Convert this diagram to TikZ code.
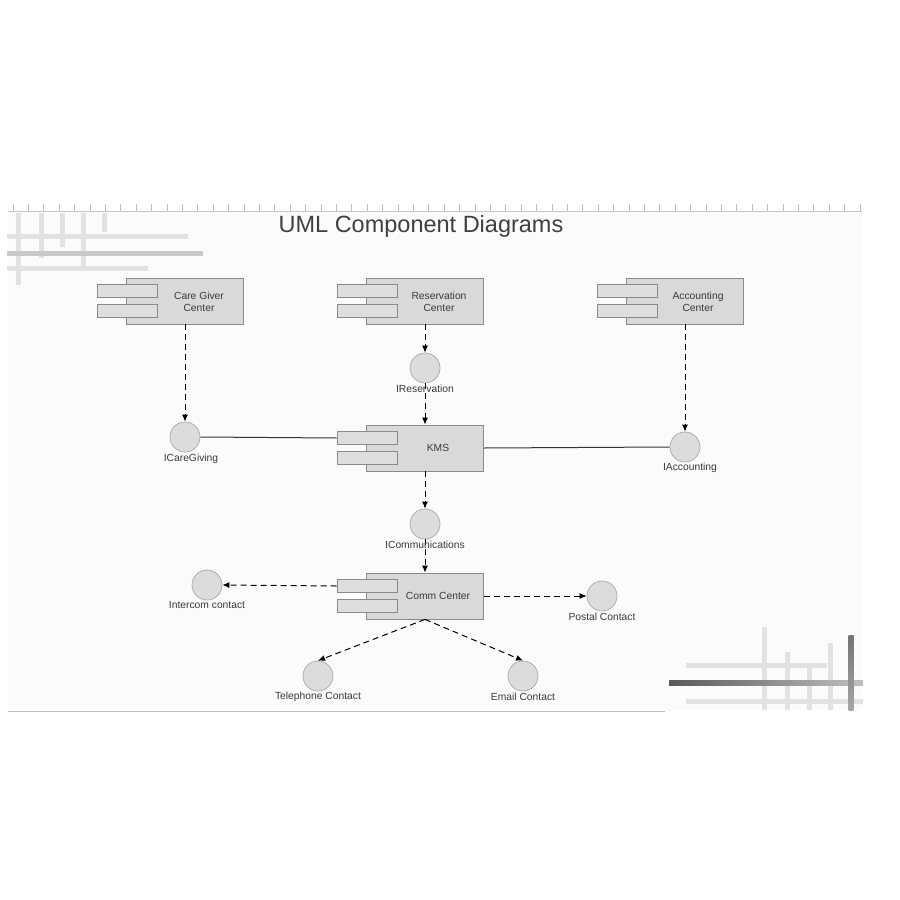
\documentclass[tikz,border=0pt]{standalone}
\usepackage{fontspec}
\setmainfont{Liberation Sans}
\usetikzlibrary{arrows.meta}
\definecolor{compfill}{HTML}{D9D9D9}
\definecolor{compdraw}{HTML}{8A8A8A}
\definecolor{portfill}{HTML}{DEDEDE}
\definecolor{iffill}{HTML}{DCDCDC}
\definecolor{ifdraw}{HTML}{A8A8A8}
\definecolor{txt}{HTML}{3A3A3A}
\definecolor{areabg}{HTML}{FBFBFB}
\definecolor{barlight}{HTML}{E2E2E2}
\definecolor{barmid}{HTML}{C9C9C9}
\begin{document}
\begin{tikzpicture}[x=1pt,y=-1pt,
  comp/.style={draw=compdraw, fill=compfill, minimum width=117pt, minimum height=46pt, inner sep=0pt, line width=0.8pt},
  port/.style={draw=compdraw, fill=portfill, minimum width=60pt, minimum height=13pt, inner sep=0pt, line width=0.7pt},
  iface/.style={circle, draw=ifdraw, fill=iffill, minimum size=30pt, inner sep=0pt, line width=0.7pt},
  lbl/.style={text=txt, font=\fontsize{10.3}{11.5}\selectfont, inner sep=0pt, align=center},
  dep/.style={draw=black, line width=1pt, dash pattern=on 6pt off 4pt, -{Latex[length=7pt,width=6pt]}},
  assoc/.style={draw=black!80, line width=1pt},
  vbar/.style={line width=5pt, draw=barlight},
  tick/.style={draw=black!25, line width=0.7pt}]
\useasboundingbox (0,0) rectangle (900,900);
\fill[white] (0,0) rectangle (900,900);
\fill[areabg] (8,211) rectangle (862,710);
% ruler
\draw[black!22, line width=0.8pt] (8,211) -- (862,211);
\foreach \i in {0,...,55} \draw[tick] ({13+15.4*\i},204) -- ++(0,7);
\draw[black!25, line width=0.8pt] (8,711) -- (665,711);
% top-left decoration
\draw[vbar] (18,213) -- (18,285);
\draw[vbar] (41,213) -- (41,258);
\draw[vbar] (62,213) -- (62,247);
\draw[vbar] (83,213) -- (83,267);
\draw[vbar] (104,213) -- (104,232);
\draw[vbar] (7,236) -- (188,236);
\draw[line width=5pt, draw=barmid] (7,253) -- (203,253);
\draw[vbar] (7,268) -- (148,268);
% bottom-right decoration
\draw[vbar] (686,665) -- (827,665);
\draw[vbar] (686,701) -- (863,701);
\draw[vbar] (764,627) -- (764,710);
\draw[vbar] (787,652) -- (787,710);
\draw[vbar] (809,663) -- (809,710);
\draw[vbar] (830,643) -- (830,710);
\shade[left color=black!65, right color=black!25] (669,680.5) rectangle (863,685.5);
\shade[top color=black!55, bottom color=black!35] (848.5,635) rectangle (853.5,710);
% title
\node[text=black!75, font=\fontsize{23.5}{27}\selectfont, inner sep=0pt] (title) at (421,226) {UML Component Diagrams};
% components
\node[comp] (cg) at (185,301) {};
\node[port] (cg-p1) at (127,291) {};
\node[port] (cg-p2) at (127,311) {};
\node[lbl] (cg-t) at (199,302) {Care Giver\\Center};

\node[comp] (rc) at (425,301) {};
\node[port] (rc-p1) at (367,291) {};
\node[port] (rc-p2) at (367,311) {};
\node[lbl] (rc-t) at (439,302) {Reservation\\Center};

\node[comp] (ac) at (685,301) {};
\node[port] (ac-p1) at (627,291) {};
\node[port] (ac-p2) at (627,311) {};
\node[lbl] (ac-t) at (698,302) {Accounting\\Center};

\node[comp] (kms) at (425,448) {};
\node[port] (kms-p1) at (367,438) {};
\node[port] (kms-p2) at (367,458) {};
\node[lbl] (kms-t) at (438,448) {KMS};

\node[comp] (cc) at (425,596) {};
\node[port] (cc-p1) at (367,586) {};
\node[port] (cc-p2) at (367,606) {};
\node[lbl] (cc-t) at (438,596) {Comm Center};
% interfaces
\node[iface] (ires) at (425,368) {};
\node[iface] (icg) at (185,437) {};
\node[iface] (iac) at (685,447) {};
\node[iface] (icom) at (425,524) {};
\node[iface] (inter) at (207,585) {};
\node[iface] (postal) at (602,596) {};
\node[iface] (tel) at (318,676) {};
\node[iface] (email) at (523,676) {};
% connectors
\draw[dep] (cg.south) -- (icg.north);
\draw[dep] (rc.south) -- (ires.north);
\draw[dep] (ires.south) -- (kms.north);
\draw[dep] (ac.south) -- (iac.north);
\draw[assoc] (icg.east) -- (kms-p1.west);
\draw[assoc] (kms.east) -- (iac.west);
\draw[dep] (kms.south) -- (icom.north);
\draw[dep] (icom.south) -- (cc.north);
\draw[dep] (cc-p1.west) -- (inter.east);
\draw[dep] (cc.east) -- (postal.west);
\draw[dep] (cc.south) -- (tel.north);
\draw[dep] (cc.south) -- (email.north);
% interface labels
\node[lbl] (ires-l) at (425,389) {IReservation};
\node[lbl] (icg-l) at (191,459) {ICareGiving};
\node[lbl] (iac-l) at (690,468) {IAccounting};
\node[lbl] (icom-l) at (425,545) {ICommunications};
\node[lbl] (inter-l) at (207,605) {Intercom contact};
\node[lbl] (postal-l) at (602,617) {Postal Contact};
\node[lbl] (tel-l) at (318,697) {Telephone Contact};
\node[lbl] (email-l) at (523,697) {Email Contact};
\end{tikzpicture}
\end{document}
